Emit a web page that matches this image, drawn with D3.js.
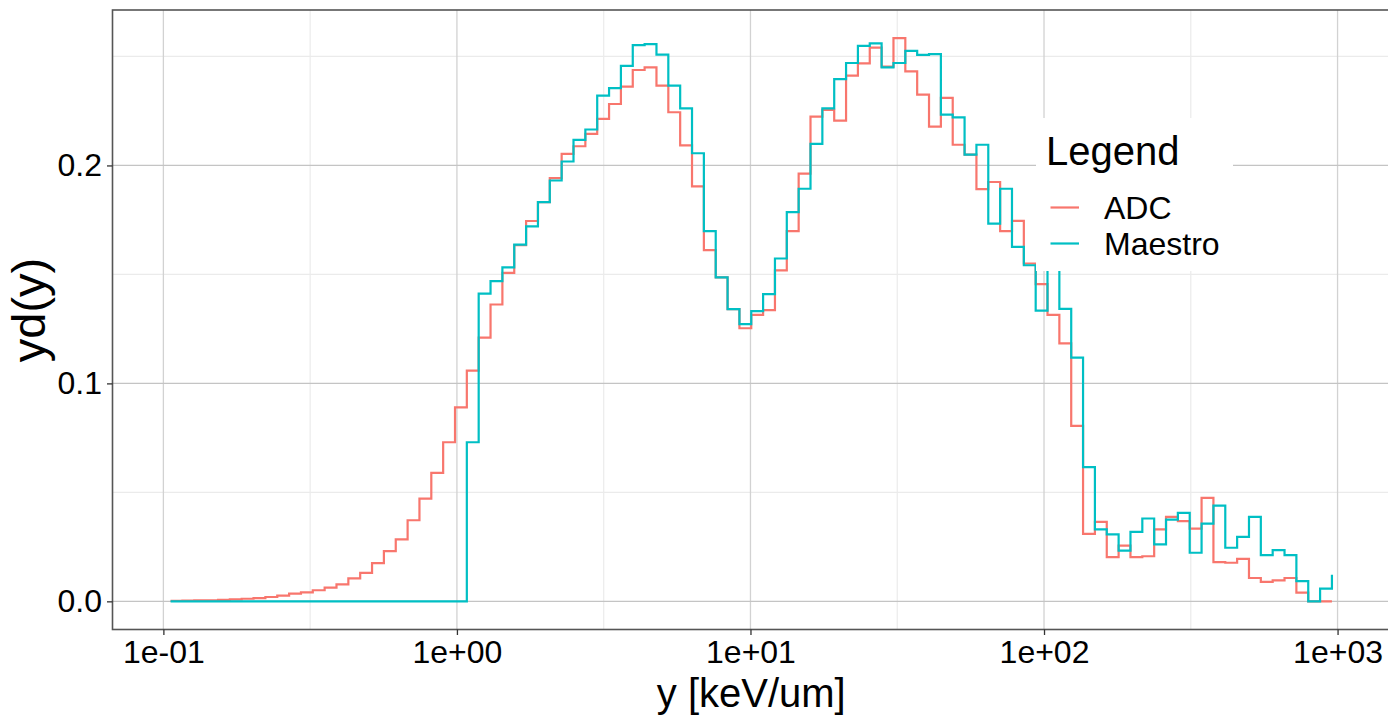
<!DOCTYPE html>
<html>
<head>
<meta charset="utf-8">
<script src="https://cdn.jsdelivr.net/npm/d3@7"></script>
<style>
  html, body { margin: 0; padding: 0; background: #ffffff; }
  svg { display: block; font-family: "Liberation Sans", Arial, Helvetica, sans-serif; }
</style>
</head>
<body>
<svg id="chart" width="1388" height="718"></svg>
<script>
// Lineal energy bins (keV/um), log-spaced
const yBins = [
  0.1058, 0.1161, 0.1274, 0.1398, 0.1535, 0.1684, 0.1848, 0.2028, 0.2226, 0.2443,
  0.2681, 0.2942, 0.3228, 0.3543, 0.3888, 0.4267, 0.4682, 0.5139, 0.5639, 0.6189,
  0.6792, 0.7453, 0.8179, 0.8976, 0.9851, 1.0808, 1.1861, 1.3017, 1.4285, 1.5677,
  1.7204, 1.8881, 2.0720, 2.2739, 2.4954, 2.7385, 3.0053, 3.2981, 3.6194, 3.9720,
  4.3590, 4.7836, 5.2497, 5.7611, 6.3224, 6.9383, 7.6143, 8.3561, 9.1702, 10.061,
  11.041, 12.117, 13.297, 14.593, 16.014, 17.575, 19.287, 21.166, 23.228, 25.491,
  27.975, 30.700, 33.691, 36.973, 40.575, 44.528, 48.866, 53.627, 58.851, 64.585,
  70.877, 77.782, 85.359, 93.675, 102.77, 112.79, 123.78, 135.83, 149.07, 163.59,
  179.53, 197.02, 216.21, 237.27, 260.39, 285.75, 313.59, 344.14, 377.67, 414.46,
  454.84, 499.15, 547.77, 601.14, 659.70, 723.97, 794.50, 871.90, 956.80
];

// yd(y) spectrum measured with the ADC chain
const adcValues = [
  0.0002, 0.0003, 0.0004, 0.0005, 0.0007, 0.0009, 0.0012, 0.0015, 0.0020, 0.0026,
  0.0035, 0.0041, 0.0051, 0.0063, 0.0078, 0.0105, 0.0131, 0.0175, 0.0230, 0.0284,
  0.0372, 0.0471, 0.0589, 0.0730, 0.0890, 0.1059, 0.1210, 0.1362, 0.1507, 0.1634,
  0.1745, 0.1832, 0.1942, 0.2053, 0.2088, 0.2145, 0.2214, 0.2282, 0.2362, 0.2438,
  0.2450, 0.2366, 0.2244, 0.2092, 0.1904, 0.1611, 0.1486, 0.1341, 0.1253, 0.1314,
  0.1336, 0.1519, 0.1699, 0.1962, 0.2224, 0.2255, 0.2206, 0.2412, 0.2468, 0.2541,
  0.2453, 0.2584, 0.2432, 0.2325, 0.2178, 0.2310, 0.2095, 0.2050, 0.1891, 0.1924,
  0.1699, 0.1746, 0.1550, 0.1455, 0.1314, 0.1184, 0.0805, 0.0310, 0.0365, 0.0203,
  0.0256, 0.0203, 0.0207, 0.0330, 0.0388, 0.0368, 0.0334, 0.0475, 0.0180, 0.0177,
  0.0195, 0.0107, 0.0089, 0.0096, 0.0107, 0.0040, 0.0000, 0.0000, 0.0000
];

// yd(y) spectrum measured with the Maestro MCA
const maestroValues = [
  0, 0, 0, 0, 0, 0, 0, 0, 0, 0,
  0, 0, 0, 0, 0, 0, 0, 0, 0, 0,
  0, 0, 0, 0, 0, 0.0730, 0.1412, 0.1469, 0.1532, 0.1637,
  0.1720, 0.1832, 0.1931, 0.2018, 0.2117, 0.2165, 0.2320, 0.2355, 0.2457, 0.2552,
  0.2557, 0.2508, 0.2366, 0.2262, 0.2056, 0.1699, 0.1486, 0.1341, 0.1272, 0.1332,
  0.1410, 0.1573, 0.1786, 0.1893, 0.2099, 0.2262, 0.2396, 0.2470, 0.2549, 0.2560,
  0.2450, 0.2470, 0.2526, 0.2507, 0.2511, 0.2233, 0.2221, 0.2050, 0.2095, 0.1733,
  0.1893, 0.1626, 0.1542, 0.1334, 0.1560, 0.1342, 0.1118, 0.0616, 0.0330, 0.0307,
  0.0233, 0.0319, 0.0380, 0.0261, 0.0375, 0.0406, 0.0223, 0.0357, 0.0439, 0.0246,
  0.0296, 0.0388, 0.0212, 0.0235, 0.0212, 0.0093, 0.0000, 0.0058, 0.0122
];

const seriesNames = ["ADC", "Maestro"];
const seriesColors = ["#F8766D", "#00BFC4"];
const xTickValues = [0.1, 1, 10, 100, 1000];
const xTickLabels = ["1e-01", "1e+00", "1e+01", "1e+02", "1e+03"];
const xMinorValues = [Math.pow(10, -0.5), Math.pow(10, 0.5), Math.pow(10, 1.5), Math.pow(10, 2.5)];
const yTickValues = [0.0, 0.1, 0.2];
const yMinorValues = [0.05, 0.15, 0.25];
const xTitle = "y [keV/um]";
const yTitle = "yd(y)";
const legendTitle = "Legend";

const svg = d3.select("#chart");
const panel = { left: 112.5, top: 10, right: 1390, bottom: 629.5 };

// Scales with a 5% expansion on each side (in log space for x)
const lx0 = Math.log10(d3.min(yBins)), lx1 = Math.log10(d3.max(yBins));
const padX = 0.05 * (lx1 - lx0);
const x = d3.scaleLog()
  .domain([Math.pow(10, lx0 - padX), Math.pow(10, lx1 + padX)])
  .range([panel.left, panel.right]);

const yMax = d3.max([d3.max(adcValues), d3.max(maestroValues)]);
const y = d3.scaleLinear()
  .domain([-0.05 * yMax, yMax * 1.05])
  .range([panel.bottom, panel.top]);

// Panel background
svg.append("rect")
  .attr("x", panel.left).attr("y", panel.top)
  .attr("width", panel.right - panel.left).attr("height", panel.bottom - panel.top)
  .attr("fill", "#ffffff");

const grid = svg.append("g");
// minor grid
grid.selectAll(".vminor").data(xMinorValues).join("line")
  .attr("x1", d => x(d)).attr("x2", d => x(d))
  .attr("y1", panel.top).attr("y2", panel.bottom)
  .attr("stroke", "#ebebeb").attr("stroke-width", 1.2);
grid.selectAll(".hminor").data(yMinorValues).join("line")
  .attr("x1", panel.left).attr("x2", panel.right)
  .attr("y1", d => y(d)).attr("y2", d => y(d))
  .attr("stroke", "#ebebeb").attr("stroke-width", 1.2);
// major grid
grid.selectAll(".vmajor").data(xTickValues).join("line")
  .attr("x1", d => x(d)).attr("x2", d => x(d))
  .attr("y1", panel.top).attr("y2", panel.bottom)
  .attr("stroke", "#d2d2d2").attr("stroke-width", 1.3);
grid.selectAll(".hmajor").data(yTickValues).join("line")
  .attr("x1", panel.left).attr("x2", panel.right)
  .attr("y1", d => y(d)).attr("y2", d => y(d))
  .attr("stroke", "#c4c4c4").attr("stroke-width", 1.3);

// Step lines (geom_step style: horizontal then vertical)
const stepLine = d3.line()
  .x(d => x(d[0]))
  .y(d => y(d[1]))
  .curve(d3.curveStepAfter);

const seriesData = [adcValues, maestroValues];
seriesData.forEach((vals, k) => {
  svg.append("path")
    .datum(yBins.map((b, i) => [b, vals[i]]))
    .attr("d", stepLine)
    .attr("fill", "none")
    .attr("stroke", seriesColors[k])
    .attr("stroke-width", 2.2)
    .attr("stroke-linejoin", "miter")
    .attr("stroke-linecap", "butt");
});

// Panel border
svg.append("rect")
  .attr("x", panel.left).attr("y", panel.top)
  .attr("width", panel.right - panel.left).attr("height", panel.bottom - panel.top)
  .attr("fill", "none").attr("stroke", "#555555").attr("stroke-width", 1.6);

// Axes
const xAxis = d3.axisBottom(x)
  .tickValues(xTickValues)
  .tickFormat((d, i) => xTickLabels[i])
  .tickSize(5.5).tickPadding(5);
const gx = svg.append("g").attr("transform", `translate(0,${panel.bottom})`).call(xAxis);
gx.select(".domain").remove();
gx.selectAll(".tick line").attr("stroke", "#333333").attr("stroke-width", 1.3);
gx.selectAll(".tick text")
  .attr("fill", "#000000").attr("font-size", 32)
  .attr("font-family", "Liberation Sans, Arial, sans-serif");

const yAxis = d3.axisLeft(y)
  .tickValues(yTickValues)
  .tickFormat(d3.format(".1f"))
  .tickSize(5.5).tickPadding(5);
const gy = svg.append("g").attr("transform", `translate(${panel.left},0)`).call(yAxis);
gy.select(".domain").remove();
gy.selectAll(".tick line").attr("stroke", "#333333").attr("stroke-width", 1.3);
gy.selectAll(".tick text")
  .attr("fill", "#000000").attr("font-size", 32)
  .attr("font-family", "Liberation Sans, Arial, sans-serif");

// Axis titles
svg.append("text")
  .attr("x", (panel.left + panel.right) / 2)
  .attr("y", 707)
  .attr("text-anchor", "middle")
  .attr("font-size", 40)
  .attr("fill", "#000000")
  .text(xTitle);

svg.append("text")
  .attr("transform", "translate(45,310) rotate(-90)")
  .attr("text-anchor", "middle")
  .attr("font-size", 47)
  .attr("fill", "#000000")
  .text(yTitle);

// Legend inside the panel
const legend = svg.append("g");
legend.append("rect")
  .attr("x", 1036).attr("y", 118)
  .attr("width", 197).attr("height", 153)
  .attr("fill", "#ffffff");
legend.append("text")
  .attr("x", 1046).attr("y", 165)
  .attr("font-size", 40).attr("fill", "#000000")
  .text(legendTitle);
seriesNames.forEach((name, k) => {
  const cy = 207.5 + k * 36;
  legend.append("line")
    .attr("x1", 1050.5).attr("x2", 1079)
    .attr("y1", cy).attr("y2", cy)
    .attr("stroke", seriesColors[k]).attr("stroke-width", 2.2);
  legend.append("text")
    .attr("x", 1104).attr("y", cy + 11.5)
    .attr("font-size", 32).attr("fill", "#000000")
    .text(name);
});
</script>
</body>
</html>
